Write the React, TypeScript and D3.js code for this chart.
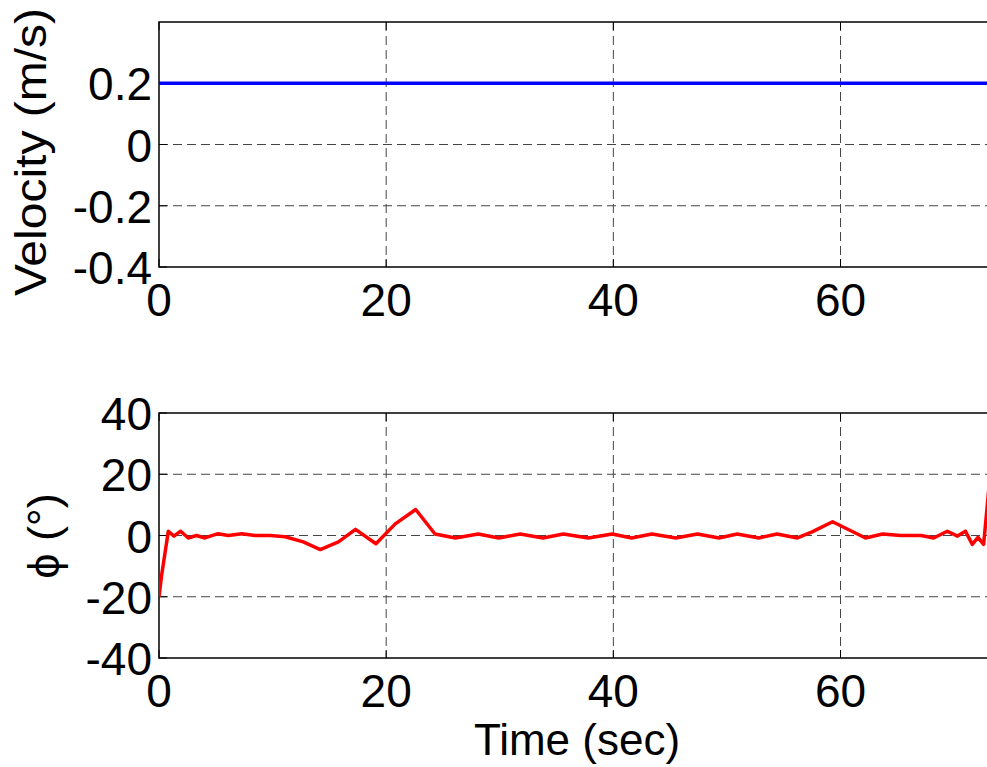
import React from "react";
import * as d3 from "d3";

// ---- Data ----
const velTime = [0, 73.6];
const velValue = [0.2, 0.2];

const phiTime = [0, 0.24, 0.82, 1.32, 1.9, 2.58, 3.3, 4.04, 5.2, 6.1, 7.3, 8.45, 9.8, 11.1, 12.7, 14.2, 15.8, 17.3, 19.1, 20.8, 22.6, 24.3, 26.1, 28.1, 29.9, 31.8, 33.8, 35.6, 37.8, 39.9, 41.6, 43.4, 45.5, 47.4, 49.3, 50.9, 52.8, 54.4, 56.2, 57.5, 59.3, 62.2, 63.7, 65.3, 67.1, 68.2, 69.4, 70.3, 71.0, 71.6, 72.1, 72.6, 73.3];
const phiValue = [-20, -12.7, 1.4, -0.2, 1.4, -0.8, 0, -0.8, 0.6, 0, 0.6, 0, 0, -0.4, -2.1, -4.6, -2.1, 2.0, -2.7, 3.8, 8.5, 0.5, -0.8, 0.5, -0.8, 0.5, -0.8, 0.5, -0.8, 0.5, -0.8, 0.5, -0.8, 0.5, -0.8, 0.5, -0.8, 0.5, -0.8, 1.2, 4.5, -0.8, 0.5, 0, 0, -0.8, 1.4, -0.2, 1.4, -2.9, -0.6, -2.9, 25];

const xTicks = [0, 20, 40, 60];
const velTicks = [-0.4, -0.2, 0, 0.2];
const phiTicks = [-40, -20, 0, 20, 40];
const velTickLabels = ["-0.4", "-0.2", "0", "0.2"];
const phiTickLabels = ["-40", "-20", "0", "20", "40"];

const W = 987;
const H = 767;
const LEFT = 159;
const RIGHT = 995;
const FONT = "'Liberation Sans', Arial, Helvetica, sans-serif";
const TICK_FS = 46;
const LABEL_FS = 45;

type PanelProps = {
  id: string;
  top: number;
  bottom: number;
  yDomain: [number, number];
  yTicks: number[];
  yLabels: string[];
  times: number[];
  values: number[];
  color: string;
  ylabel: string;
  ylabelX: number;
  ylabelY: number;
  ylabelLen?: number;
};

function Panel(p: PanelProps) {
  const x = d3.scaleLinear().domain([0, 73.6]).range([LEFT, RIGHT]);
  const y = d3.scaleLinear().domain(p.yDomain).range([p.bottom, p.top]);
  const pts: [number, number][] = p.times.map((t, i) => [t, p.values[i]]);
  const line = d3
    .line<[number, number]>()
    .x((d) => x(d[0]))
    .y((d) => y(d[1]));
  const tickLen = 8;
  return (
    <g>
      <defs>
        <clipPath id={p.id}>
          <rect x={LEFT} y={p.top} width={RIGHT - LEFT} height={p.bottom - p.top} />
        </clipPath>
      </defs>
      {/* grid */}
      {xTicks
        .filter((t) => t !== 0)
        .map((t) => (
          <line
            key={"gx" + t}
            x1={x(t)}
            x2={x(t)}
            y1={p.top}
            y2={p.bottom}
            stroke="#444"
            strokeWidth={1}
            strokeDasharray="9,5"
          />
        ))}
      {p.yTicks
        .filter((t) => t !== p.yDomain[0] && t !== p.yDomain[1])
        .map((t) => (
          <line
            key={"gy" + t}
            x1={LEFT}
            x2={RIGHT}
            y1={y(t)}
            y2={y(t)}
            stroke="#444"
            strokeWidth={1}
            strokeDasharray="9,5"
          />
        ))}
      {/* ticks */}
      {xTicks.map((t) => (
        <g key={"tx" + t}>
          <line x1={x(t)} x2={x(t)} y1={p.bottom} y2={p.bottom - tickLen} stroke="#000" strokeWidth={1} />
          <line x1={x(t)} x2={x(t)} y1={p.top} y2={p.top + tickLen} stroke="#000" strokeWidth={1} />
        </g>
      ))}
      {p.yTicks.map((t) => (
        <line key={"ty" + t} x1={LEFT} x2={LEFT + tickLen} y1={y(t)} y2={y(t)} stroke="#000" strokeWidth={1} />
      ))}
      {/* frame */}
      <rect
        x={LEFT}
        y={p.top}
        width={RIGHT - LEFT}
        height={p.bottom - p.top}
        fill="none"
        stroke="#000"
        strokeWidth={1.5}
      />
      {/* data */}
      <path
        d={line(pts) || ""}
        fill="none"
        stroke={p.color}
        strokeWidth={3.5}
        strokeLinejoin="round"
        clipPath={`url(#${p.id})`}
      />
      {/* tick labels */}
      {p.yTicks.map((t, i) => (
        <text
          key={"ly" + t}
          x={LEFT - 7}
          y={y(t) + 17}
          textAnchor="end"
          fontFamily={FONT}
          fontSize={TICK_FS}
          fill="#000"
        >
          {p.yLabels[i]}
        </text>
      ))}
      {xTicks.map((t) => (
        <text
          key={"lx" + t}
          x={x(t)}
          y={p.bottom + 49}
          textAnchor="middle"
          fontFamily={FONT}
          fontSize={TICK_FS}
          fill="#000"
        >
          {t}
        </text>
      ))}
      <text
        transform={`translate(${p.ylabelX},${p.ylabelY}) rotate(-90)`}
        textAnchor="middle"
        fontFamily={FONT}
        fontSize={LABEL_FS}
        fill="#000"
        textLength={p.ylabelLen}
        lengthAdjust={p.ylabelLen ? "spacingAndGlyphs" : undefined}
      >
        {p.ylabel}
      </text>
    </g>
  );
}

export default function App() {
  return (
    <svg
      width={W}
      height={H}
      viewBox={`0 0 ${W} ${H}`}
      style={{ position: "absolute", left: 0, top: 0, background: "#fff" }}
    >
      <rect x={0} y={0} width={W} height={H} fill="#fff" />
      <Panel
        id="clipTop"
        top={22}
        bottom={267}
        yDomain={[-0.4, 0.4]}
        yTicks={velTicks}
        yLabels={velTickLabels}
        times={velTime}
        values={velValue}
        color="#0000ff"
        ylabel="Velocity (m/s)"
        ylabelX={46}
        ylabelY={152}
        ylabelLen={288}
      />
      <Panel
        id="clipBottom"
        top={413}
        bottom={658}
        yDomain={[-40, 40]}
        yTicks={phiTicks}
        yLabels={phiTickLabels}
        times={phiTime}
        values={phiValue}
        color="#ff0000"
        ylabel="ϕ (°)"
        ylabelX={59}
        ylabelY={536}
      />
      <text
        x={577}
        y={755}
        textAnchor="middle"
        fontFamily={FONT}
        fontSize={44}
        fill="#000"
      >
        Time (sec)
      </text>
    </svg>
  );
}
